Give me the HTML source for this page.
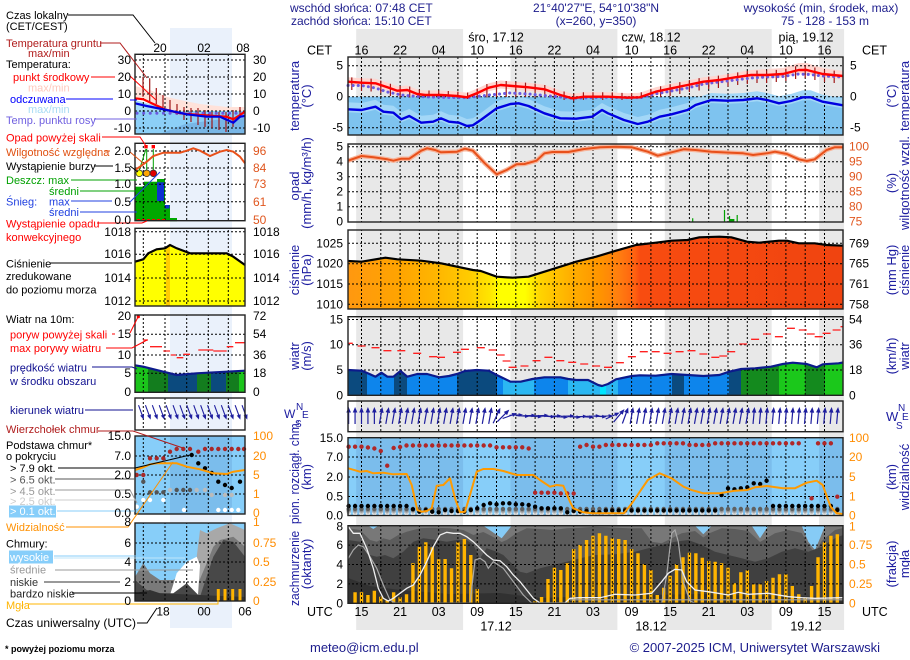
<!DOCTYPE html>
<html><head><meta charset="utf-8"><title>meteogram</title>
<style>
html,body{margin:0;padding:0;background:#fff}
svg{display:block}
text{font-family:"Liberation Sans",Arial,sans-serif}
.l{font-size:11px}
.k{font-size:12px}
.h{font-size:12px;fill:#1c1c8c}
.v{font-size:13px;fill:#1c1ca0}
.e{text-anchor:end}
.m{text-anchor:middle}
.o{fill:#e0561e}
.y{fill:#ff8c00}
</style></head><body>
<svg width="910" height="660" viewBox="0 0 910 660" xmlns="http://www.w3.org/2000/svg">
<defs>
<clipPath id="mc">
<rect x="348" y="57" width="495" height="78"/>
<rect x="348" y="144" width="495" height="78"/>
<rect x="348" y="230" width="495" height="79"/>
<rect x="348" y="316.7" width="495" height="78.6"/>
<rect x="348" y="401" width="495" height="30.7"/>
<rect x="348" y="437.7" width="495" height="77.8"/>
<rect x="348" y="525.7" width="495" height="77.6"/>
</clipPath>
<clipPath id="nc">
<rect x="135" y="54.3" width="110" height="79.7"/>
<rect x="135" y="143.3" width="110" height="77.4"/>
<rect x="135" y="228.3" width="110" height="77.7"/>
<rect x="135" y="315" width="110" height="77.3"/>
<rect x="135" y="398" width="110" height="32"/>
<rect x="135" y="436" width="110" height="78"/>
<rect x="135" y="523" width="110" height="78"/>
</clipPath>
<clipPath id="wc"><polygon points="348,370 361.6,370.7 369.5,374 375.5,376.7 381.4,372.7 387.4,376.7 393.4,376.7 400.5,371 407.3,376.7 417.2,374 427.1,374 439.1,377.3 449,376 457,374 464.9,371 476.8,370 488.8,370.7 496.7,375 510.6,381.7 520.6,381.7 532.5,379 544.4,377.3 560.3,377.3 568.3,379 576.2,380 588.1,380 598.1,385 602,386 608,384 616,379.3 631.9,376 639.8,375.3 655.7,375.7 671.6,374 687.5,375 703.4,376 719.3,375 729.2,371.7 741.2,369 755.1,368.3 771,366.7 782.9,364 792.8,362.7 806.8,364 816.7,367.3 822.7,364.3 838.6,363.3 843,362.5 843,395.3 348,395.3"/></clipPath>
<clipPath id="mwc"><polygon points="135,365.3 143.3,366.7 163.3,371.7 176.7,375 196.7,373.3 226.7,371.7 245,370.7 245,392.3 135,392.3"/></clipPath>
<linearGradient id="pg" gradientUnits="userSpaceOnUse" x1="348" y1="0" x2="843" y2="0">
<stop offset="0" stop-color="#ff9810"/>
<stop offset="0.105" stop-color="#ffa400"/>
<stop offset="0.186" stop-color="#ffb800"/>
<stop offset="0.246" stop-color="#ffcc00"/>
<stop offset="0.287" stop-color="#ffe600"/>
<stop offset="0.307" stop-color="#ffff00"/>
<stop offset="0.358" stop-color="#ffff00"/>
<stop offset="0.388" stop-color="#ffd400"/>
<stop offset="0.448" stop-color="#ffb000"/>
<stop offset="0.509" stop-color="#ff9400"/>
<stop offset="0.549" stop-color="#ff7c10"/>
<stop offset="0.58" stop-color="#ff6010"/>
<stop offset="0.59" stop-color="#f84c10"/>
<stop offset="1" stop-color="#f04410"/>
</linearGradient>
<g id="ar"><path d="M0 8V-5" stroke="#1e1e9e" stroke-width="1.2" fill="none"/><path d="M-2.3 -3.5L0 -9L2.3 -3.5Z" fill="#1e1e9e"/></g>
<use id="a5" href="#ar" transform="rotate(5)"/>
<use id="a10" href="#ar" transform="rotate(10)"/>
<use id="a20" href="#ar" transform="rotate(20)"/>
<use id="a25" href="#ar" transform="rotate(25)"/>
<use id="a40" href="#ar" transform="rotate(40)"/>
<use id="a45" href="#ar" transform="rotate(45)"/>
<use id="a65" href="#ar" transform="rotate(65) scale(0.9)"/>
<use id="a70" href="#ar" transform="rotate(70) scale(0.9)"/>
<use id="a88" href="#ar" transform="rotate(88) scale(0.8)"/>
<use id="a92" href="#ar" transform="rotate(93) scale(0.8)"/>
<use id="am" href="#ar" transform="rotate(160) scale(0.9)"/>
</defs>

<rect x="0" y="0" width="910" height="660" fill="#fff"/>

<g fill="#e8e8e8">
<rect x="356.2" y="29" width="106.9" height="601"/>
<rect x="510.5" y="29" width="106.9" height="601"/>
<rect x="664.8" y="29" width="106.9" height="601"/>
<rect x="819.1" y="29" width="25" height="601"/>
</g>
<rect x="170" y="28" width="62" height="600" fill="#eaf1fb"/>

<!-- temperature -->
<polygon fill="#ffd6d0" points="348,77.2 361.6,78.2 375.5,78.8 387.4,82.8 397.3,86.2 407.3,85.5 417.2,89.5 425.2,90.5 441,90.5 457,91.5 466.9,92.8 476.8,88.8 488.8,83.2 500.7,80.5 512.6,81.5 528.5,82.8 544.4,84.8 560.3,90.5 572.2,93.8 584.2,92.2 608,92.2 627.9,93.2 639.8,92.8 655.7,87.2 671.6,83.8 687.5,80.5 703.4,77.2 719.3,75.5 735.2,72.8 751.1,70 767,69 782.9,68 798.8,63 806.8,63 822.7,68 843,71 843,79.5 822.7,77.5 806.8,73.5 798.8,73.5 782.9,77.5 767,78.5 751.1,78.5 735.2,80.8 719.3,83.5 703.4,85.2 687.5,88.5 671.6,91.8 655.7,95.2 639.8,100.8 627.9,101.2 608,100.2 584.2,100.2 572.2,101.8 560.3,98.5 544.4,92.8 528.5,90.8 512.6,89.5 500.7,88.5 488.8,91.2 476.8,96.8 466.9,100.8 457,99.5 441,98.5 425.2,98.5 417.2,97.5 407.3,93.5 397.3,94.2 387.4,90.8 375.5,86.8 361.6,86.2 348,85.2"/>
<rect x="348" y="96.7" width="495" height="38.3" fill="#7ec3ef"/>
<polygon fill="#a3d7f7" points="348,102.3 361.6,103 375.5,99.7 383.4,104.7 393.4,105.7 401.3,112.3 409.3,109 421.2,115.7 433.1,114.7 441,111.3 449,114.7 458.9,115.7 466.9,119 472.9,118.3 480.8,113 496.7,101.3 510.6,97 518.6,96.3 528.5,99 544.4,106.3 560.3,111.3 576.2,111.7 592.1,109.7 602,103 608,106.3 623.9,113 637.8,117 647.8,114.7 659.7,109.7 671.6,107.3 687.5,103 695.5,98 711.4,93 727.2,93.7 743.2,93 757.1,91.3 767,93 779,96.3 790.9,94 802.8,90.3 810.7,90.3 822.7,94.7 843,98.3 843,108.3 822.7,104.7 810.7,100.3 802.8,100.3 790.9,104 779,106.3 767,103 757.1,101.3 743.2,103 727.2,103.7 711.4,103 695.5,108 687.5,113 671.6,117.3 659.7,119.7 647.8,124.7 637.8,127 623.9,123 608,116.3 602,113 592.1,119.7 576.2,121.7 560.3,121.3 544.4,116.3 528.5,109 518.6,106.3 510.6,107 496.7,111.3 480.8,123 472.9,128.3 466.9,129 458.9,125.7 449,124.7 441,121.3 433.1,124.7 421.2,125.7 409.3,119 401.3,122.3 393.4,115.7 383.4,114.7 375.5,109.7 361.6,113 348,112.3"/>

<path d="M692.7 221.7V218.3M724.5 221.7V210M729.5 221.7V216M737.2 221.7V215" stroke="#00a000" stroke-width="1.2"/>
<rect x="729.2" y="219" width="5.2" height="2.7" fill="#00a000"/>

<polygon fill="url(#pg)" points="348,261 361.6,261.7 385.4,257.7 397.3,259.3 421.2,260.7 441,263.3 457,266.7 472.9,270 480.8,271 496.7,276.7 512.6,277.7 528.5,276.7 544.4,271.7 560.3,266.7 576.2,261.7 596.1,256.7 616,250.7 635.8,245 655.7,242.7 671.6,240.7 687.5,240 699.4,237.3 719.3,236.7 731.2,237.3 747.1,241.7 759.1,242.7 778.9,240.7 786.9,240.7 798.8,243.3 814.7,243.3 826.6,245 843,245.7 843,309 348,309"/>

<g clip-path="url(#wc)">
<rect x="348" y="355" width="19" height="41" fill="#0b4a7e"/>
<rect x="367" y="355" width="27" height="41" fill="#0d85ec"/>
<rect x="394" y="355" width="13" height="41" fill="#0b4a7e"/>
<rect x="407" y="355" width="50" height="41" fill="#0d85ec"/>
<rect x="457" y="355" width="40" height="41" fill="#0b4a7e"/>
<rect x="497" y="355" width="6" height="41" fill="#0d85ec"/>
<rect x="503" y="355" width="31" height="41" fill="#2bb7f2"/>
<rect x="534" y="355" width="34" height="41" fill="#0d85ec"/>
<rect x="568" y="355" width="32" height="41" fill="#2bb7f2"/>
<rect x="600" y="355" width="6" height="41" fill="#00e5ff"/>
<rect x="606" y="355" width="12" height="41" fill="#2bb7f2"/>
<rect x="618" y="355" width="54" height="41" fill="#0d85ec"/>
<rect x="672" y="355" width="12" height="41" fill="#0b4a7e"/>
<rect x="684" y="355" width="45" height="41" fill="#0d85ec"/>
<rect x="729" y="355" width="12" height="41" fill="#0b4a7e"/>
<rect x="741" y="355" width="38" height="41" fill="#148a1e"/>
<rect x="779" y="355" width="26" height="41" fill="#1bc81b"/>
<rect x="805" y="355" width="20" height="41" fill="#148a1e"/>
<rect x="825" y="355" width="18" height="41" fill="#1bc81b"/>
</g>

<rect x="348" y="437.7" width="495" height="77.8" fill="#87cef9"/>
<g fill="#7bbdec">
<rect x="356.2" y="437.7" width="106.9" height="77.8"/>
<rect x="510.5" y="437.7" width="106.9" height="77.8"/>
<rect x="664.8" y="437.7" width="106.9" height="77.8"/>
<rect x="819.1" y="437.7" width="23.9" height="77.8"/>
</g>

<rect x="348" y="525.7" width="495" height="77.6" fill="#86cbf6"/>
<path fill="#787878" d="M348,525.7 L368.3,525.7 L373.3,529 L378.3,525.7 L483.3,525.7 L501.7,538.3 L511.7,525.7 L695,525.7 L703.3,534.3 L711.7,525.7 L751.7,525.7 L760,538.3 L768.3,525.7 L801.7,525.7 L808.3,541.7 L815,550 L820,538.3 L825,525.7 L843,525.7 L843,603.3 L348,603.3 Z"/>
<path fill="#5c5c5c" d="M348,528.3 L360,530 L370,540 L376.7,541.7 L383.3,538.3 L390,540 L398.3,535 L406.7,531.7 L420,528.3 L433.3,527.7 L450,528.3 L463.3,530 L473.3,535 L483.3,532 L493.3,537 L501.7,542 L506.7,540 L516.7,533 L526.7,528.3 L540,529 L553.3,530 L566.7,528.3 L580,527.7 L595,526.7 L628.3,528.3 L641.7,528.3 L651.7,541.7 L661.7,543.3 L671.7,538.3 L681.7,533.3 L695,531 L703.3,537.5 L710,533 L721.7,528.3 L735,529 L748.3,531 L760,542 L775,533.3 L788.3,530 L801.7,533 L808.3,545 L815,553 L821.7,541 L835,530 L843,528 L843,603.3 L348,603.3 Z"/>
<path fill="#404040" d="M348,540 L360,541.7 L370,555 L376.7,556.7 L385,555 L393.3,558.3 L403.3,551.7 L413.3,541.7 L423.3,538.3 L436.7,540 L446.7,541.7 L456.7,540 L466.7,540 L473.3,545 L480,558.3 L486.7,548.3 L496.7,551.7 L503.3,555 L510,561.7 L520,571.7 L526.7,573.3 L540,568.3 L553.3,565 L566.7,561.7 L580,558.3 L595,555 L615,554.3 L635,551.7 L648.3,548.3 L661.7,545 L675,541.7 L688.3,540 L701.7,545 L715,551.7 L728.3,555 L741.7,558.3 L755,561.7 L768.3,558.3 L781.7,551.7 L795,548.3 L808.3,551.7 L821.7,546.7 L835,538.3 L843,535 L843,603.3 L348,603.3 Z"/>
<path fill="#313131" d="M348,578 L370,586 L400,590 L450,594 L500,593 L540,598 L600,596 L700,594 L760,596 L843,597 L843,603.3 L348,603.3 Z"/>
<path stroke="#ffb400" stroke-width="3.4" fill="none" d="M355.07 603.3V592.3M361.5 603.3V592.3M367.93 603.3V595M374.36 603.3V590.7M380.79 603.3V596.7M387.22 603.3V600.3M393.65 603.3V592.3M400.08 603.3V597.3M406.51 603.3V594.3M412.94 603.3V563.3M419.37 603.3V546.7M425.8 603.3V542.3M432.23 603.3V547.3M438.66 603.3V559.3M445.09 603.3V559M451.52 603.3V568.3M457.95 603.3V542.3M464.38 603.3V539M470.81 603.3V555M477.24 603.3V589M535.11 603.3V601M541.54 603.3V597M547.97 603.3V579M554.4 603.3V567.7M560.83 603.3V570M567.26 603.3V563.3M573.69 603.3V549M580.12 603.3V545M586.55 603.3V540M592.98 603.3V535.7M599.41 603.3V533.3M605.84 603.3V535.7M612.27 603.3V538.3M618.7 603.3V539M625.13 603.3V540M631.56 603.3V549M637.99 603.3V553.3M644.42 603.3V564.3M650.85 603.3V570M657.28 603.3V595M663.71 603.3V587.7M670.14 603.3V575.7M676.57 603.3V564.3M683 603.3V557.3M689.43 603.3V552.7M695.86 603.3V553.3M702.29 603.3V557.7M708.72 603.3V561M715.15 603.3V561.7M721.58 603.3V563.3M728.01 603.3V567.7M734.44 603.3V583.3M740.87 603.3V572.3M747.3 603.3V570.3M753.73 603.3V584.3M760.16 603.3V584.3M766.59 603.3V581M773.02 603.3V577.7M779.45 603.3V574.3M785.88 603.3V574.3M792.31 603.3V586M798.74 603.3V594.3M805.17 603.3V598.3M811.6 603.3V586M818.03 603.3V557.3M824.46 603.3V542.3M830.89 603.3V535.7M837.32 603.3V534.3"/>

<g stroke="#000" stroke-width="1" stroke-dasharray="2 2" fill="none">
<path clip-path="url(#mc)" d="M361.5 57V604M380.8 57V604M400.1 57V604M419.4 57V604M438.7 57V604M457.9 57V604M477.2 57V604M496.5 57V604M515.8 57V604M535.1 57V604M554.4 57V604M573.7 57V604M593 57V604M612.3 57V604M631.6 57V604M650.9 57V604M670.1 57V604M689.4 57V604M708.7 57V604M728 57V604M747.3 57V604M766.6 57V604M785.9 57V604M805.2 57V604M824.5 57V604"/>
<path d="M348 65.7H843M348 96.7H843M348 127.7H843M348 146.7H843M348 161.7H843M348 176.7H843M348 191.7H843M348 206.7H843M348 243.3H843M348 263.7H843M348 284H843M348 304.3H843M348 319.5H843M348 344.7H843M348 370H843M348 457H843M348 477H843M348 496.5H843M348 545.1H843M348 564.5H843M348 583.9H843"/>
</g>

<path stroke="#a01818" stroke-width="1.2" fill="none" d="M351.8 77.4V90M361.5 78.2V91M371.1 78.6V91.5M380.8 80.6V93M390.4 83.8V96M400.1 86V97.5M409.7 86.5V97.5M419.4 89.8V97.5M429 90.5V97.5M438.7 90.5V97.5M448.3 91V97.5M457.9 91.6V97.7M467.6 92.5V99M477.2 88.6V97.5M486.9 84V97.5M496.5 81.5V97M506.2 81V97M515.8 81.8V97M525.5 82.6V97M535.1 83.5V97.5M544.8 85V97.5M554.4 88.4V98M564.1 91.5V100M573.7 93.6V101M583.4 92.3V100M593 92.2V100M602.7 92.2V100M612.3 92.4V100M622 92.9V100M631.6 93.1V100M641.3 92.3V99M650.9 88.9V97.5M660.6 86.2V97M670.1 84.1V96M679.8 82.1V94M689.4 80.1V92M699.1 78.1V90.5M708.7 76.6V89M718.4 75.6V88M728 74V86.5M737.7 72.4V85M747.3 71V84M757 70.5V83M766.6 70.5V83M776.3 69.9V82M785.9 68.7V81M795.6 66.3V79M805.2 65.5V78M814.9 67.5V80M824.5 69.7V82M834.2 70.6V83"/>
<polyline fill="none" stroke="#6a5ae0" stroke-width="3" stroke-linecap="round" stroke-dasharray="0.1 5" points="348,85.5 361.6,85.5 375.5,88 387.4,92 401.3,95 421.2,96.7 441,97.3 466.9,97.7 488.8,95 510,93 528.5,94 544.4,95.5 560.3,97 572.2,98.3 600,97.3 640,97.7 655.7,94 671.6,91 687.5,88 703.4,84 719.3,82 735.2,80 751.1,78 767,77 782.9,76.5 798.8,74 810,74.5 822.7,76 843,77"/>
<polyline fill="none" stroke="#ff0000" stroke-width="2.4" stroke-linejoin="round" points="348,81.7 361.6,82.7 375.5,83.3 387.4,87.3 397.3,90.7 407.3,90 417.2,94 425.2,95 441,95 457,96 466.9,97.3 476.8,93.3 488.8,87.7 500.7,85 512.6,86 528.5,87.3 544.4,89.3 560.3,95 572.2,98.3 584.2,96.7 608,96.7 627.9,97.7 639.8,97.3 655.7,91.7 671.6,88.3 687.5,85 703.4,81.7 719.3,80 735.2,77.3 751.1,75 767,75 782.9,74 798.8,70 806.8,70 822.7,74 843,76"/>
<polyline fill="none" stroke="#0000e0" stroke-width="2.4" stroke-linejoin="round" points="348,109.3 361.6,110 375.5,106.7 383.4,111.7 393.4,112.7 401.3,119.3 409.3,116 421.2,122.7 433.1,121.7 441,118.3 449,121.7 458.9,122.7 466.9,126 472.9,125.3 480.8,120 496.7,108.3 510.6,104 518.6,103.3 528.5,106 544.4,113.3 560.3,118.3 576.2,118.7 592.1,116.7 602,110 608,113.3 623.9,120 637.8,124 647.8,121.7 659.7,116.7 671.6,114.3 687.5,110 695.5,105 711.4,100 727.2,100.7 743.2,100 757.1,98.3 767,100 779,103.3 790.9,101 802.8,97.3 810.7,97.3 822.7,101.7 843,105.3"/>

<polyline fill="none" stroke="#f7b49a" stroke-width="4.5" stroke-linejoin="round" points="348,160.7 361.6,156 373.5,157.3 387.4,159.3 393.4,160.7 401.3,158.7 409.3,158.7 421.2,150.7 427.1,148.3 435.1,150 441,152.3 457,151.7 464.9,148.7 472.9,150.7 484.8,163.3 496.7,174.3 506.6,170 516.6,164.3 524.5,164 536.5,160.7 544.4,153.3 552.4,152 568.3,152 584.2,149 600,147.3 616,146.7 631.9,147.3 647.8,151.7 657.7,155.7 671.6,152.3 683.5,149.3 695.5,150 711.4,151.7 731.2,152.7 743.2,153.3 753.1,155 767,153.3 775,151.7 786.9,154 798.8,159.3 806.8,161 814.7,159.3 826.6,150 834.6,147.3 843,147.3"/>
<polyline fill="none" stroke="#e8501a" stroke-width="2" stroke-linejoin="round" points="348,160.7 361.6,156 373.5,157.3 387.4,159.3 393.4,160.7 401.3,158.7 409.3,158.7 421.2,150.7 427.1,148.3 435.1,150 441,152.3 457,151.7 464.9,148.7 472.9,150.7 484.8,163.3 496.7,174.3 506.6,170 516.6,164.3 524.5,164 536.5,160.7 544.4,153.3 552.4,152 568.3,152 584.2,149 600,147.3 616,146.7 631.9,147.3 647.8,151.7 657.7,155.7 671.6,152.3 683.5,149.3 695.5,150 711.4,151.7 731.2,152.7 743.2,153.3 753.1,155 767,153.3 775,151.7 786.9,154 798.8,159.3 806.8,161 814.7,159.3 826.6,150 834.6,147.3 843,147.3"/>

<polyline fill="none" stroke="#000" stroke-width="2.2" stroke-linejoin="round" points="348,261 361.6,261.7 385.4,257.7 397.3,259.3 421.2,260.7 441,263.3 457,266.7 472.9,270 480.8,271 496.7,276.7 512.6,277.7 528.5,276.7 544.4,271.7 560.3,266.7 576.2,261.7 596.1,256.7 616,250.7 635.8,245 655.7,242.7 671.6,240.7 687.5,240 699.4,237.3 719.3,236.7 731.2,237.3 747.1,241.7 759.1,242.7 778.9,240.7 786.9,240.7 798.8,243.3 814.7,243.3 826.6,245 843,245.7"/>

<polyline fill="none" stroke="#0c1a8c" stroke-width="2.2" stroke-linejoin="round" points="348,370 361.6,370.7 369.5,374 375.5,376.7 381.4,372.7 387.4,376.7 393.4,376.7 400.5,371 407.3,376.7 417.2,374 427.1,374 439.1,377.3 449,376 457,374 464.9,371 476.8,370 488.8,370.7 496.7,375 510.6,381.7 520.6,381.7 532.5,379 544.4,377.3 560.3,377.3 568.3,379 576.2,380 588.1,380 598.1,385 602,386 608,384 616,379.3 631.9,376 639.8,375.3 655.7,375.7 671.6,374 687.5,375 703.4,376 719.3,375 729.2,371.7 741.2,369 755.1,368.3 771,366.7 782.9,364 792.8,362.7 806.8,364 816.7,367.3 822.7,364.3 838.6,363.3 843,362.5"/>
<path stroke="#ff2020" stroke-width="1.3" fill="none" d="M348 343.3H352.8M357.6 346H365.6M371.5 347.7H379.5M383.4 350.7H391.4M397.3 350.7H405.3M413.2 353.3H421.2M429.1 356.7H437.1M437 357.3H445M453 352.3H461M460.9 349.3H468.9M476.8 347.7H484.8M488.7 350H496.7M496.7 355H504.7M502.6 361H510.6M508.6 367.3H516.6M520.5 366H528.5M532.5 360.7H540.5M544.4 357.3H552.4M556.3 360.7H564.3M568.2 362.3H576.2M580.2 364H588.2M592.1 366H600.1M604 367.3H612M615.9 362.7H623.9M627.9 356.7H635.9M639.8 351.7H647.8M651.7 351.7H659.7M663.6 353.3H671.6M675.6 351.7H683.6M687.5 350.7H695.5M699.4 354H707.4M711.3 357.3H719.3M719.3 356H727.3M727.2 351.7H735.2M739.2 344H747.2M751.1 339.3H759.1M763 334H771M774.9 336.7H782.9M786.9 328.3H794.9M798.8 330H806.8M806.7 334H814.7M814.7 336.7H822.7M822.6 333.3H830.6M832.6 330H840.6M840.5 326.7H843"/>

<g>
<use href="#ar" x="348.64" y="416"/><use href="#ar" x="355.07" y="416"/><use href="#ar" x="361.5" y="416"/><use href="#ar" x="367.93" y="416"/><use href="#ar" x="374.36" y="416"/>
<use href="#a10" x="380.79" y="416"/><use href="#a10" x="387.22" y="416"/><use href="#a10" x="393.65" y="416"/><use href="#a10" x="400.08" y="416"/><use href="#a10" x="406.51" y="416"/><use href="#a10" x="412.94" y="416"/><use href="#a10" x="419.37" y="416"/><use href="#a10" x="425.8" y="416"/><use href="#a10" x="432.23" y="416"/><use href="#a10" x="438.66" y="416"/><use href="#a10" x="445.09" y="416"/><use href="#a10" x="451.52" y="416"/><use href="#a10" x="457.95" y="416"/><use href="#a10" x="464.38" y="416"/><use href="#a10" x="470.81" y="416"/><use href="#a10" x="477.24" y="416"/><use href="#a10" x="483.67" y="416"/><use href="#a10" x="490.1" y="416"/>
<use href="#a25" x="496.53" y="416"/><use href="#a45" x="502.96" y="416"/><use href="#a70" x="509.39" y="416"/>
<use href="#a88" x="515.82" y="415"/><use href="#a92" x="522.25" y="416"/><use href="#a88" x="528.68" y="415.5"/><use href="#a92" x="535.11" y="416.5"/><use href="#a88" x="541.54" y="415.5"/><use href="#a92" x="547.97" y="416.5"/><use href="#a88" x="554.4" y="416"/><use href="#a92" x="560.83" y="417"/><use href="#a88" x="567.26" y="416"/><use href="#a92" x="573.69" y="417"/><use href="#a88" x="580.12" y="416.5"/><use href="#a92" x="586.55" y="417"/><use href="#a88" x="592.98" y="416"/><use href="#a92" x="599.41" y="416.5"/><use href="#a88" x="605.84" y="416"/>
<use href="#a65" x="612.27" y="416"/><use href="#a40" x="618.7" y="416"/><use href="#a20" x="625.13" y="416"/>
<use href="#a10" x="631.56" y="416"/><use href="#a10" x="637.99" y="416"/><use href="#a10" x="644.42" y="416"/><use href="#a10" x="650.85" y="416"/><use href="#a10" x="657.28" y="416"/><use href="#a10" x="663.71" y="416"/><use href="#a10" x="670.14" y="416"/><use href="#a10" x="676.57" y="416"/><use href="#a10" x="683" y="416"/><use href="#a10" x="689.43" y="416"/><use href="#a10" x="695.86" y="416"/><use href="#a10" x="702.29" y="416"/><use href="#a10" x="708.72" y="416"/><use href="#a10" x="715.15" y="416"/><use href="#a10" x="721.58" y="416"/><use href="#a10" x="728.01" y="416"/><use href="#a10" x="734.44" y="416"/><use href="#a10" x="740.87" y="416"/><use href="#a10" x="747.3" y="416"/>
<use href="#a5" x="753.73" y="416"/><use href="#a5" x="760.16" y="416"/><use href="#a5" x="766.59" y="416"/><use href="#a5" x="773.02" y="416"/><use href="#a5" x="779.45" y="416"/><use href="#a5" x="785.88" y="416"/><use href="#a5" x="792.31" y="416"/><use href="#a5" x="798.74" y="416"/><use href="#a5" x="805.17" y="416"/><use href="#a5" x="811.6" y="416"/><use href="#a5" x="818.03" y="416"/><use href="#a5" x="824.46" y="416"/><use href="#a5" x="830.89" y="416"/><use href="#a5" x="837.32" y="416"/>
</g>

<g fill="none" stroke-linecap="round" stroke-width="4.4">
<path stroke="#ffffff" stroke-dasharray="0 6.43" d="M348.64 513.5H838.5"/>
<path stroke="#c8c8c8" stroke-dasharray="0 6.43" d="M348.64 512H838.5"/>
<path stroke="#959595" stroke-dasharray="0 6.43" d="M348.64 510.5H838.5"/>
<path stroke="#606060" stroke-dasharray="0 6.43" d="M348.64 509H838.5"/>
<path stroke="#000" stroke-dasharray="0 6.43" d="M348.64 506H407.5M541.54 508.3H561.8M605.84 510.5H716.2M773.02 506H831.9"/>
<path stroke="#000" d="M412.94 509.3h0M419.37 511.7h0M425.8 510h0M432.23 511.7h0M438.66 512.3h0M445.09 510h0M451.52 511h0M457.95 511h0M464.38 511.7h0M470.81 510h0M477.24 508.3h0M483.67 505h0M490.1 503.3h0M496.53 504.3h0M502.96 503.3h0M509.39 503.3h0M515.82 504.3h0M522.25 504.3h0M528.68 505h0M535.11 506.7h0M567.26 512.3h0M573.69 511h0M580.12 511.7h0M586.55 511h0M592.98 512.3h0M599.41 512.3h0M721.58 495h0M728.01 488.3h0M734.44 489.3h0M740.87 488.3h0M747.3 487.3h0M753.73 483.3h0M760.16 484h0M766.59 480.7h0M837.32 510h0"/>
<path stroke="#b02828" stroke-dasharray="0 6.43" d="M348.64 446.7H362.5M406.51 445.5H491M496.53 447.3H523M535.11 492.7H555.4M560.83 493.5H574.7M605.84 445H651.8M657.28 443.3H684M689.43 445H709.7M715.15 443.3H799.7M818.03 443.3H831.9"/>
<path stroke="#b02828" d="M367.93 447.5h0M374.36 448.5h0M380.79 451h0M387.22 465.7h0M393.65 448h0M400.08 447h0M528.68 448.5h0M580.12 446.7h0M586.55 445h0M592.98 446.7h0M599.41 446.7h0M811.6 498.3h0M837.32 496.7h0"/>
</g>
<polyline fill="none" stroke="#ff9a00" stroke-width="2" stroke-linejoin="round" points="348.3,468.3 360,471.7 366.7,471 373.3,473.3 383.3,472.7 393.3,474.3 406.7,474 411.7,485 417.3,510 421.7,511.7 426.7,511 431.7,508.3 436.7,485.7 443.3,485 450,478.3 455,498.3 460,512.3 465,511.7 470,495 476.7,471.7 483.3,469 493.3,469 503.3,471 516.7,475 533.3,475 540,480 550,486.7 556.7,485 563.3,485.7 570,501.7 573.3,508.3 583.3,512.3 592,513.3 623.9,513.3 631.9,503.3 639.8,491.7 647.8,480 659.7,473.3 671.6,478.3 683.5,486.7 691.5,490 703.4,493.3 719.3,493.3 735.2,490.7 747.1,490 755,487.3 767,486 782.9,488.3 794.8,488.3 806.8,482.7 816.7,480.7 822.7,485 830.6,506.7 836.6,513.3 843,514"/>

<polyline fill="none" stroke="#a8a8a8" stroke-width="1.2" points="348.3,558.3 353.3,550 358.3,545 363.3,546.7 370,556.7 376.7,568.3 383.3,585 390,600 395,603 470,603 475,560 480,558.3 485,561.7 488.3,568.3 493.3,561.7 498.3,565 503.3,568.3 513.3,581.7 523.3,595 531.7,603 661.7,603 666.7,575 671.7,533.3 675,530 678.3,541.7 683.3,581.7 690,601 695,603"/>
<path fill="none" stroke="#a8a8a8" stroke-width="1.2" d="M570 599.8H843"/>
<polyline fill="none" stroke="#f0f0f0" stroke-width="1.3" points="348.3,526.7 353.3,533.3 360,533.3 366.7,548.3 373.3,568.3 378.3,588.3 383.3,598.3 388.3,601 393.3,598.3 400,593.3 406.7,588.3 413.3,585 420,575 426.7,561.7 433.3,546.7 440,535 446.7,532.3 453.3,533.3 460,533.3 466.7,536.7 473.3,541.7 480,548.3 486.7,555 493.3,560 500,560.7 506.7,566.7 513.3,575 520,581.7 526.7,590 533.3,598.3 540,603 565,603 570,598.3 580,597.7 600,597.7 615,594.3 635,595 651.7,593.3 661.7,581.7 668.3,573.3 675,569.3 681.7,570 686.7,581.7 695,590 708.3,591.7 728.3,595 738.3,592.3 748.3,594.3 768.3,593.3 788.3,596.7 801.7,597.7 815,598.3 843,597.7"/>

<g fill="none" stroke="#222" stroke-width="1.4">
<rect x="348" y="57" width="495" height="78"/>
<rect x="348" y="144" width="495" height="78"/>
<rect x="348" y="230" width="495" height="79"/>
<rect x="348" y="316.7" width="495" height="78.6"/>
<rect x="348" y="401" width="495" height="30.7"/>
<rect x="348" y="437.7" width="495" height="77.8"/>
<rect x="348" y="525.7" width="495" height="77.6"/>
</g>

<!-- mini legend chart -->
<polygon fill="#ffe2da" points="135,86 150,90 167,97 185,101 200,104 227,107 245,107 245,111.7 240,115 233.3,119.3 226.7,116.7 200,115 180,113.3 166.7,110 153.3,104 143.3,99.3 135,98.3"/>
<rect x="135" y="111" width="110" height="23" fill="#8ccff7"/>
<polygon fill="#a6dcf8" points="135,100 150,104 165,108 175,111 135,111"/>
<polygon fill="#78b6e6" points="160,134 185,124 215,120 245,118 245,134"/>
<g>
<rect x="135" y="186.7" width="9" height="34.3" fill="#00a800"/>
<rect x="144" y="181.7" width="13" height="39.3" fill="#00a800"/>
<rect x="157" y="179" width="8" height="42" fill="#00a800"/>
<rect x="165" y="205" width="5" height="16" fill="#00a800"/>
<rect x="170" y="218" width="7" height="3.3" fill="#00a800"/>
<rect x="157" y="182.3" width="7" height="18.7" fill="#1030d0"/>
<rect x="164.5" y="205" width="5" height="3.5" fill="#1030d0"/>
</g>
<polygon fill="#ffff00" points="135,261.7 143.3,259.3 148.3,253.3 156.7,249.3 165,248.3 170,245 176.7,248.3 190,253.3 200,253.3 226.7,253.3 233.3,256.7 245,265 245,306 135,306"/>
<polygon fill="#ffcc00" points="166,248.5 170,245 170,306 166,306"/>
<g clip-path="url(#mwc)">
<rect x="135" y="360" width="13" height="33" fill="#1bc41b"/>
<rect x="148" y="360" width="20" height="33" fill="#137d1e"/>
<rect x="168" y="360" width="29" height="33" fill="#0b4a7e"/>
<rect x="197" y="360" width="14" height="33" fill="#137d1e"/>
<rect x="211" y="360" width="15" height="33" fill="#0b4a7e"/>
<rect x="226" y="360" width="13" height="33" fill="#137d1e"/>
<rect x="239" y="360" width="6" height="33" fill="#1bc41b"/>
</g>
<rect x="135" y="436" width="110" height="78" fill="#87cef9"/>
<rect x="170" y="436" width="62" height="78" fill="#7bbdec"/>
<rect x="135" y="523" width="110" height="78" fill="#87cef9"/>
<path fill="#a8a8a8" d="M196.7,601 L196.7,556.7 L200,530 L206.7,533.3 L216.7,528.3 L230,523.3 L245,530 L245,601 Z"/>
<path fill="#7a7a7a" d="M135,601 L135,576.7 L143.3,563.3 L150,573.3 L160,580 L173.3,580 L186.7,570 L196.7,586.7 L206.7,563.3 L213.3,546.7 L220,540 L233.3,536.7 L245,546.7 L245,601 Z"/>
<path fill="#ffffff" d="M170,595 L176.7,573.3 L186.7,561.7 L196.7,556.7 L200,565 L198,595 Z"/>
<path fill="#484848" d="M135,601 L135,580 L146.7,590 L156.7,593.3 L173.3,593.3 L186.7,583.3 L200,596.7 L213.3,556.7 L223.3,540 L233.3,541.7 L245,556.7 L245,601 Z"/>
<path fill="#333" d="M135,601 L135,593.3 L150,590 L160,593.3 L245,597 L245,601 Z"/>
<path stroke="#ffb400" stroke-width="3" d="M218.3 601V589M225 601V589M232.7 601V589M240 601V589"/>

<g stroke="#000" stroke-width="1" stroke-dasharray="2 2" fill="none">
<path clip-path="url(#nc)" d="M143.3 54V601M165 54V601M186.7 54V601M208.3 54V601M228.3 54V601"/>
<path d="M135 60H245M135 77H245M135 94H245M135 111H245M135 128H245M135 151H245M135 168H245M135 184.3H245M135 201.7H245M135 231.7H245M135 254.3H245M135 278H245M135 301H245M135 334.3H245M135 355H245M135 373.3H245M135 456H245M135 475H245M135 494H245M135 543H245M135 562H245M135 582H245"/>
</g>

<path stroke="#a01818" stroke-width="1.2" fill="none" d="M143 76.7V96.7M149.7 78.3V101.7M156.3 88V104M163 95V107M170 100V112M177 104V115M184 107V120M191 108V122M198 108V125M205 110V127M212 112V128M219 112V130M226 112V132M233 110V127M240 107V118"/>
<path stroke="#6a5ae0" stroke-width="3" stroke-linecap="round" stroke-dasharray="0.1 6.5" d="M137 113.3H245"/>
<polyline fill="none" stroke="#ff0000" stroke-width="2.2" points="135,98.3 143.3,99.3 153.3,104 166.7,110 180,113.3 200,115 226.7,116.7 233.3,119.3 240,115 245,111.7"/>
<polyline fill="none" stroke="#0000e0" stroke-width="2.2" points="135,103.3 146.7,106 166.7,110 186.7,114.3 206.7,116.7 220,116.7 233.3,122.7 240,116.7 245,116"/>
<path stroke="#00a000" stroke-width="1" d="M139.3 170L146 149M146.7 170V149M153.3 170V149"/>
<path stroke="#ff0000" stroke-width="2" stroke-dasharray="3 2" d="M137 220H165"/>
<rect x="144.3" y="145" width="3.4" height="3.4" fill="#ff0000"/>
<rect x="151.6" y="145" width="3.4" height="3.4" fill="#ff0000"/>
<circle cx="139.3" cy="173.3" r="3.3" fill="#ffff00" stroke="#333" stroke-width="0.8"/>
<circle cx="146.7" cy="173.3" r="3.3" fill="#ffa500" stroke="#333" stroke-width="0.8"/>
<circle cx="153.3" cy="173.3" r="3.3" fill="#e00000" stroke="#333" stroke-width="0.8"/>
<polyline fill="none" stroke="#e8501a" stroke-width="2" points="135,170 140,166.7 146.7,161.7 153.3,156 163.3,152.7 180,152.7 186.7,150.7 193.3,148.3 200,150.7 210,156 220,151.7 226.7,150 233.3,151.7 240,156.7 245,163.3"/>
<polyline fill="none" stroke="#000" stroke-width="2.2" points="135,261.7 143.3,259.3 148.3,253.3 156.7,249.3 165,248.3 170,245 176.7,248.3 190,253.3 200,253.3 226.7,253.3 233.3,256.7 245,265"/>
<polyline fill="none" stroke="#0c1a8c" stroke-width="2.2" points="135,365.3 143.3,366.7 163.3,371.7 176.7,375 196.7,373.3 226.7,371.7 245,370.7"/>
<path stroke="#ff2020" stroke-width="1.3" fill="none" d="M143 340H148M150 346.7H162M163.3 351H170M170.7 355H176M176.7 357.7H183.3M183.3 354.3H190M198.3 350H213.3M213.3 351H226.7M226.7 346.7H233.3M235 342.7H245"/>
<circle cx="138.3" cy="316.7" r="1.6" fill="#ff0000"/>
<g>
<use href="#am" x="141" y="412"/><use href="#am" x="147.9" y="412"/><use href="#am" x="154.8" y="412"/><use href="#am" x="161.7" y="412"/><use href="#am" x="168.6" y="412"/><use href="#am" x="175.5" y="412"/><use href="#am" x="182.4" y="412"/><use href="#am" x="189.3" y="412"/><use href="#am" x="196.2" y="412"/><use href="#am" x="203.1" y="412"/><use href="#am" x="210" y="412"/><use href="#am" x="216.9" y="412"/><use href="#am" x="223.8" y="412"/><use href="#am" x="230.7" y="412"/><use href="#am" x="237.6" y="412"/><use href="#am" x="244.5" y="412"/>
</g>
<g fill="none" stroke-linecap="round" stroke-width="4.4">
<path stroke="#ffffff" d="M136.7 506.7h0M143.3 500h0M150 500h0M163.3 500h0M184 510h0M218.3 510h0M225 510h0M231.7 510h0M238.3 510h0"/>
<path stroke="#bbbbbb" d="M170 490h0M196.7 490h0M205 490h0M211.7 495h0M225 495h0M231.7 495h0"/>
<path stroke="#555555" d="M143.3 481.7h0M150 492.3h0M156.7 492.3h0M163.3 492.3h0M176.7 490h0M183.3 490h0M190 490h0"/>
<path stroke="#000" d="M191.7 455h0M198.3 463.3h0M205 468.3h0M211.7 473h0M218.3 481.7h0M225 485h0M231.7 488h0M240 481.7h0"/>
<path stroke="#a82828" d="M136.7 475h0M143.3 475h0M150 458.3h0M156.7 458.3h0M163.3 458.3h0M170 451.7h0M176.7 449h0M183.3 449h0M190 449h0M198.3 451.7h0M205 449h0M211.7 449h0M218.3 449h0M225 449h0M231.7 449h0M238.3 449h0M244 449h0"/>
</g>
<polyline fill="none" stroke="#ff9a00" stroke-width="2" points="135,470 143.3,467.3 150,464.3 156.7,463.3 163.3,463.3 176.7,463.3 186.7,466.7 200,469.3 213.3,473.3 226.7,474 233.3,471.7 245,470"/>

<g fill="none" stroke="#222" stroke-width="1.4">
<rect x="135" y="54.3" width="110" height="79.7"/>
<rect x="135" y="143.3" width="110" height="77.4"/>
<rect x="135" y="228.3" width="110" height="77.7"/>
<rect x="135" y="315" width="110" height="77.3"/>
<rect x="135" y="398" width="110" height="32"/>
<rect x="135" y="436" width="110" height="78"/>
<rect x="135" y="523" width="110" height="78"/>
</g>

<g fill="none" stroke-width="1">
<path stroke="#000" d="M68 15H133L155 43"/>
<path stroke="#b01c1c" d="M100 43H120L147 78"/>
<path stroke="#ff0000" d="M91 77H115M130 76L156 100"/>
<path stroke="#0000ff" d="M66 99H113M130 100H137"/>
<path stroke="#7060e0" d="M94 119H137"/>
<path stroke="#ff0000" d="M102 137H140L146 146"/>
<path stroke="#e05010" d="M104 151H110M130 152L143 163"/>
<path stroke="#000" d="M94 166H113M130 166L138 172"/>
<path stroke="#00a000" d="M71 180H137M80 191H137"/>
<path stroke="#2040e0" d="M71 201H112M130 202L160 172M80 212H137"/>
<path stroke="#ff0000" d="M97 223H142L147 221"/>
<path stroke="#000" d="M50 263H132"/>
<path stroke="#ff0000" d="M112 334H115M130 333L138 317M106 348H132L147 340"/>
<path stroke="#101090" d="M92 367H132L137 369M85 410H133"/>
<path stroke="#b01c1c" d="M98 431H133L183 448"/>
<path stroke="#000" d="M58 468H135L190 455"/>
<path stroke="#555" d="M55 479H135"/>
<path stroke="#999" d="M55 490H130L137 503"/>
<path stroke="#ccc" d="M55 500H135"/>
<path stroke="#87cefa" d="M57 511H135"/>
<path stroke="#ff9000" d="M66 527H128L173 462"/>
<path stroke="#87cefa" d="M54 556H185"/>
<path stroke="#bfe6fa" d="M54 558H185"/>
<path stroke="#999" d="M55 570H193"/>
<path stroke="#333" d="M44 582H120M133 582H137"/>
<path stroke="#000" d="M72 593H147"/>
<path stroke="#ffb400" d="M28 604H218V590"/>
<path stroke="#000" d="M137 623H147L157 608"/>
</g>

<g class="l">
<text x="6" y="19">Czas lokalny</text>
<text x="6" y="30">(CET/CEST)</text>
<text x="6" y="47" fill="#b01c1c">Temperatura gruntu</text>
<text x="28" y="57" fill="#b01c1c">max/min</text>
<text x="6" y="68">Temperatura:</text>
<text x="13" y="81" fill="#ff0000">punkt środkowy</text>
<text x="28" y="91.5" fill="#ffc8bc">max/min</text>
<text x="10" y="103" fill="#0000ff">odczuwana</text>
<text x="28" y="113" fill="#a8dcf4">max/min</text>
<text x="6" y="124" fill="#7060e0">Temp. punktu rosy</text>
<text x="6" y="141.5" fill="#ff0000">Opad powyżej skali</text>
<text x="6" y="156" fill="#e05010">Wilgotność względna</text>
<text x="6" y="170">Wystąpienie burzy</text>
<text x="6" y="184" fill="#00a000">Deszcz: max</text>
<text x="49" y="195" fill="#00a000">średni</text>
<text x="6" y="205.5" fill="#2040e0">Śnieg:</text>
<text x="49" y="205.5" fill="#2040e0">max</text>
<text x="49" y="216" fill="#2040e0">średni</text>
<text x="6" y="227.5" fill="#ff0000">Wystąpienie opadu</text>
<text x="6" y="241" fill="#ff0000">konwekcyjnego</text>
<text x="6" y="267.5">Ciśnienie</text>
<text x="6" y="280">zredukowane</text>
<text x="6" y="293.5">do poziomu morza</text>
<text x="6" y="323">Wiatr na 10m:</text>
<text x="10" y="338.5" fill="#ff0000">poryw powyżej skali</text>
<text x="10" y="352" fill="#ff0000">max porywy wiatru</text>
<text x="10" y="371.5" fill="#101090">prędkość wiatru</text>
<text x="10" y="385" fill="#101090">w środku obszaru</text>
<text x="10" y="414" fill="#101090">kierunek wiatru</text>
<text x="6" y="433" fill="#b01c1c">Wierzchołek chmur</text>
<text x="6" y="449">Podstawa chmur*</text>
<text x="6" y="460">o pokryciu</text>
<text x="10" y="472">&gt; 7.9 okt.</text>
<text x="10" y="483.5" fill="#555">&gt; 6.5 okt.</text>
<text x="10" y="495" fill="#999">&gt; 4.5 okt.</text>
<text x="10" y="505" fill="#ccc">&gt; 2.5 okt.</text>
<rect x="9" y="505.5" width="47" height="12" fill="#87cefa"/>
<text x="10" y="515" fill="#fff">&gt; 0.1 okt.</text>
<text x="6" y="531" fill="#ff9000">Widzialność</text>
<text x="6" y="547.5">Chmury:</text>
<rect x="9" y="550.5" width="44" height="13" fill="#87cefa"/>
<text x="10" y="561" fill="#fff">wysokie</text>
<text x="10" y="573.5" fill="#999">średnie</text>
<text x="10" y="586" fill="#333">niskie</text>
<text x="10" y="597.5" fill="#222">bardzo niskie</text>
<text x="6" y="609" fill="#ffb400">Mgła</text>
<text x="6" y="627" style="font-size:12px">Czas uniwersalny (UTC)</text>
<text x="5" y="652" style="font-size:9px;font-weight:bold">* powyżej poziomu morza</text>
</g>

<g class="k">
<text x="160" y="52" class="m">20</text><text x="204" y="52" class="m">02</text><text x="243" y="52" class="m">08</text>
<text x="131" y="64" class="e">30</text><text x="131" y="81" class="e">20</text><text x="131" y="98" class="e">10</text><text x="131" y="115" class="e">0</text><text x="131" y="132" class="e">-10</text>
<text x="253" y="64">30</text><text x="253" y="81">20</text><text x="253" y="98">10</text><text x="253" y="115">0</text><text x="253" y="132">-10</text>
<text x="131" y="155" class="e">2.0</text><text x="131" y="172" class="e">1.5</text><text x="131" y="188" class="e">1.0</text><text x="131" y="206" class="e">0.5</text><text x="131" y="224" class="e">0.0</text>
<text x="253" y="155" class="o">96</text><text x="253" y="172" class="o">84</text><text x="253" y="188" class="o">73</text><text x="253" y="206" class="o">61</text><text x="253" y="224" class="o">50</text>
<text x="131" y="236" class="e">1018</text><text x="131" y="258" class="e">1016</text><text x="131" y="282" class="e">1014</text><text x="131" y="305" class="e">1012</text>
<text x="253" y="236">1018</text><text x="253" y="258">1016</text><text x="253" y="282">1014</text><text x="253" y="305">1012</text>
<text x="131" y="320" class="e">20</text><text x="131" y="338" class="e">15</text><text x="131" y="359" class="e">10</text><text x="131" y="377" class="e">5</text><text x="131" y="396" class="e">0</text>
<text x="253" y="320">72</text><text x="253" y="338">54</text><text x="253" y="359">36</text><text x="253" y="377">18</text><text x="253" y="396">0</text>
<text x="131" y="440" class="e">15.0</text><text x="131" y="460" class="e">7.0</text><text x="131" y="479" class="e">2.0</text><text x="131" y="498" class="e">0.5</text><text x="131" y="517" class="e">0.0</text>
<text x="253" y="440" class="y">100</text><text x="253" y="460" class="y">20</text><text x="253" y="479" class="y">5</text><text x="253" y="498" class="y">1</text><text x="253" y="517" class="y">0</text>
<text x="131" y="526" class="e">8</text><text x="131" y="547" class="e">6</text><text x="131" y="566" class="e">4</text><text x="131" y="586" class="e">2</text><text x="131" y="605" class="e">0</text>
<text x="253" y="526" class="y">1</text><text x="253" y="547" class="y">0.75</text><text x="253" y="566" class="y">0.5</text><text x="253" y="586" class="y">0.25</text><text x="253" y="605" class="y">0</text>
<text x="163" y="615.5" class="m">18</text><text x="204" y="615.5" class="m">00</text><text x="245" y="615.5" class="m">06</text>
</g>

<text class="h" x="290" y="12">wschód słońca: 07:48 CET</text>
<text class="h" x="291" y="25">zachód słońca: 15:10 CET</text>
<text class="h m" x="596" y="12">21°40'27"E, 54°10'38"N</text>
<text class="h m" x="596" y="25">(x=260,  y=350)</text>
<text class="h m" x="821" y="12">wysokość (min, środek, max)</text>
<text class="h m" x="825" y="25">75 - 128 - 153 m</text>

<g class="k" style="font-size:12.5px">
<text x="496" y="41.5" class="m">śro, 17.12</text>
<text x="651" y="41.5" class="m">czw, 18.12</text>
<text x="806" y="41.5" class="m">pią, 19.12</text>
<text x="307" y="54.5">CET</text>
<text x="862" y="54.5">CET</text>
<text x="361.5" y="54.5" class="m">16</text><text x="400.1" y="54.5" class="m">22</text><text x="438.7" y="54.5" class="m">04</text><text x="477.2" y="54.5" class="m">10</text><text x="515.8" y="54.5" class="m">16</text><text x="554.4" y="54.5" class="m">22</text><text x="593" y="54.5" class="m">04</text><text x="631.6" y="54.5" class="m">10</text><text x="670.1" y="54.5" class="m">16</text><text x="708.7" y="54.5" class="m">22</text><text x="747.3" y="54.5" class="m">04</text><text x="785.9" y="54.5" class="m">10</text><text x="824.5" y="54.5" class="m">16</text>
<text x="307" y="616">UTC</text>
<text x="862" y="616">UTC</text>
<text x="361.5" y="616" class="m">15</text><text x="400.1" y="616" class="m">21</text><text x="438.7" y="616" class="m">03</text><text x="477.2" y="616" class="m">09</text><text x="515.8" y="616" class="m">15</text><text x="554.4" y="616" class="m">21</text><text x="593" y="616" class="m">03</text><text x="631.6" y="616" class="m">09</text><text x="670.1" y="616" class="m">15</text><text x="708.7" y="616" class="m">21</text><text x="747.3" y="616" class="m">03</text><text x="785.9" y="616" class="m">09</text><text x="824.5" y="616" class="m">15</text>
<text x="496" y="630.5" class="m">17.12</text>
<text x="651" y="630.5" class="m">18.12</text>
<text x="806" y="630.5" class="m">19.12</text>
</g>

<g class="k">
<text x="343" y="69.7" class="e">5</text><text x="343" y="100.7" class="e">0</text><text x="343" y="131.7" class="e">-5</text>
<text x="850" y="69.7">5</text><text x="850" y="100.7">0</text><text x="850" y="131.7">-5</text>
<text x="343" y="150.7" class="e">5</text><text x="343" y="165.7" class="e">4</text><text x="343" y="180.7" class="e">3</text><text x="343" y="195.7" class="e">2</text><text x="343" y="210.7" class="e">1</text><text x="343" y="225.7" class="e">0</text>
<text x="849" y="150.7" class="o">100</text><text x="849" y="165.7" class="o">95</text><text x="849" y="180.7" class="o">90</text><text x="849" y="195.7" class="o">85</text><text x="849" y="210.7" class="o">80</text><text x="849" y="225.7" class="o">75</text>
<text x="343" y="247.3" class="e">1025</text><text x="343" y="267.7" class="e">1020</text><text x="343" y="288" class="e">1015</text><text x="343" y="308.3" class="e">1010</text>
<text x="849" y="247.3">769</text><text x="849" y="267.7">765</text><text x="849" y="288">761</text><text x="849" y="308.3">758</text>
<text x="343" y="323.5" class="e">15</text><text x="343" y="348.7" class="e">10</text><text x="343" y="374" class="e">5</text><text x="343" y="399.3" class="e">0</text>
<text x="849" y="323.5">54</text><text x="849" y="348.7">36</text><text x="849" y="374">18</text><text x="849" y="399.3">0</text>
<text x="343" y="442" class="e">15.0</text><text x="343" y="461" class="e">7.0</text><text x="343" y="481" class="e">2.0</text><text x="343" y="500.5" class="e">0.5</text><text x="343" y="519.5" class="e">0.0</text>
<text x="849" y="442" class="y">100</text><text x="849" y="461" class="y">20</text><text x="849" y="481" class="y">5</text><text x="849" y="500.5" class="y">1</text><text x="849" y="519.5" class="y">0</text>
<text x="343" y="530.5" class="e">8</text><text x="343" y="549.1" class="e">6</text><text x="343" y="568.5" class="e">4</text><text x="343" y="587.9" class="e">2</text><text x="343" y="607.3" class="e">0</text>
<text x="849" y="530.5" class="y">1</text><text x="849" y="549.1" class="y">0.75</text><text x="849" y="568.5" class="y">0.5</text><text x="849" y="587.9" class="y">0.25</text><text x="849" y="607.3" class="y">0</text>
</g>

<g class="v">
<text transform="translate(299 96) rotate(-90)" class="m">temperatura</text>
<text transform="translate(311 96) rotate(-90)" class="m">(°C)</text>
<text transform="translate(896 96) rotate(-90)" class="m">(°C)</text>
<text transform="translate(909 96) rotate(-90)" class="m">temperatura</text>
<text transform="translate(299 186) rotate(-90)" class="m">opad</text>
<text transform="translate(311 183) rotate(-90)" class="m">(mm/h, kg/m³/h)</text>
<text transform="translate(896 183) rotate(-90)" class="m">(%)</text>
<text transform="translate(909 183) rotate(-90)" class="m">wilgotność wzgl.</text>
<text transform="translate(299 270) rotate(-90)" class="m">ciśnienie</text>
<text transform="translate(311 270) rotate(-90)" class="m">(hPa)</text>
<text transform="translate(896 270) rotate(-90)" class="m">(mm Hg)</text>
<text transform="translate(909 270) rotate(-90)" class="m">ciśnienie</text>
<text transform="translate(299 356) rotate(-90)" class="m">wiatr</text>
<text transform="translate(311 356) rotate(-90)" class="m">(m/s)</text>
<text transform="translate(896 356) rotate(-90)" class="m">(km/h)</text>
<text transform="translate(909 356) rotate(-90)" class="m">wiatr</text>
<text transform="translate(299 606) rotate(-90)" textLength="186" lengthAdjust="spacingAndGlyphs">zachmurzenie&#160;&#160;pion. rozciągł. chm.</text>
<text transform="translate(311 477) rotate(-90)" class="m">(km)</text>
<text transform="translate(311 564) rotate(-90)" class="m">(oktanty)</text>
<text transform="translate(896 477) rotate(-90)" class="m">(km)</text>
<text transform="translate(909 477) rotate(-90)" class="m">widzialność</text>
<text transform="translate(896 564) rotate(-90)" class="m">(frakcja)</text>
<text transform="translate(909 564) rotate(-90)" class="m">mgła</text>
</g>
<g style="font-size:10px;fill:#1c1ca0">
<text x="886" y="421" style="font-size:13px">W</text>
<text x="898" y="411">N</text>
<text x="896" y="429">S</text>
<text x="902" y="420">E</text>
<text x="284" y="418" style="font-size:12px">W</text>
<text x="296" y="410">N</text>
<text x="295" y="427">S</text>
<text x="302" y="418">E</text>
</g>

<text class="h" x="310" y="652" style="font-size:13px">meteo@icm.edu.pl</text>
<text class="h" x="880" y="652" text-anchor="end" style="font-size:13px">© 2007-2025 ICM, Uniwersytet Warszawski</text>
</svg>
</body></html>
